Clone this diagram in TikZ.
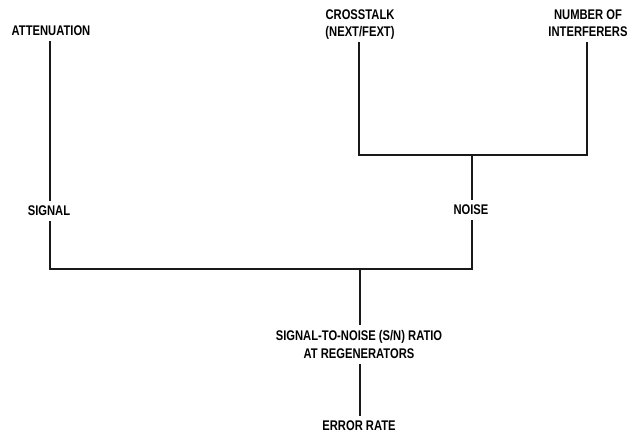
\documentclass[tikz,border=0pt]{standalone}
\usepackage{fontspec}
\setmainfont{Liberation Sans}[FakeStretch=0.8]
\begin{document}
\begin{tikzpicture}[x=1pt,y=-1pt,
  lbl/.style={font=\fontsize{14}{17.5}\selectfont\bfseries, align=center,
    inner xsep=1pt, inner ysep=5pt, text depth=0pt},
  wire/.style={line width=1.5pt, draw=black!90}]
\path[use as bounding box] (0,0) rectangle (628,434);
% labels
\node[lbl] (att) at (51,31) {ATTENUATION};
\node[lbl] (cross) at (360,23) {CROSSTALK\\(NEXT/FEXT)};
\node[lbl] (num) at (588,23) {NUMBER OF\\INTERFERERS};
\node[lbl] (signal) at (49,211) {SIGNAL};
\node[lbl] (noise) at (471,210) {NOISE};
\node[lbl] (snr) at (359,344.5) {SIGNAL-TO-NOISE (S/N) RATIO\\AT REGENERATORS};
\node[lbl] (err) at (359,426) {ERROR RATE};
% junctions
\coordinate (jt) at (472,155);
\coordinate (jb) at (360,269);
% connectors
\draw[wire] ([xshift=-1pt]cross.south) -- ([xshift=-1pt]cross.south |- jt) -- ([xshift=-1pt]num.south |- jt) -- ([xshift=-1pt]num.south);
\draw[wire] (jt) -- ([xshift=1pt]noise.north);
\draw[wire] ([xshift=-1pt]att.south) -- ([xshift=1pt]signal.north);
\draw[wire] ([xshift=1pt]signal.south) -- ([xshift=1pt]signal.south |- jb) -- ([xshift=1pt]noise.south |- jb) -- ([xshift=1pt]noise.south);
\draw[wire] (jb) -- (jb |- snr.north);
\draw[wire] (jb |- snr.south) -- (jb |- err.north);
\end{tikzpicture}
\end{document}
